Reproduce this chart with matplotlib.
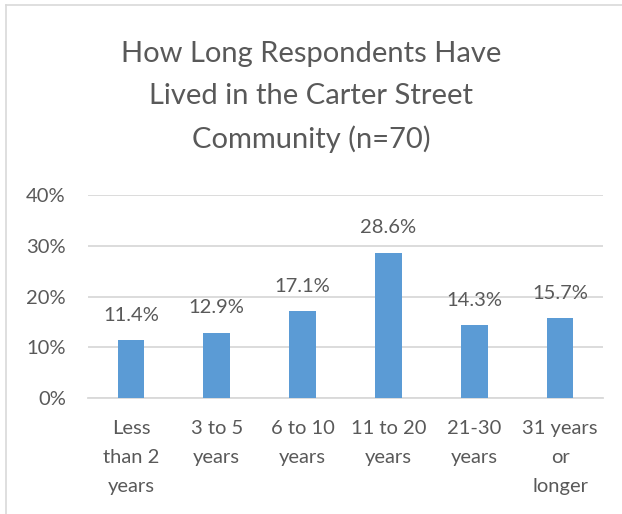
import matplotlib
matplotlib.use("Agg")
import matplotlib.pyplot as plt
from matplotlib.lines import Line2D

categories = ["Less\nthan 2\nyears", "3 to 5\nyears", "6 to 10\nyears", "11 to 20\nyears", "21-30\nyears", "31 years\nor\nlonger"]
values = [11.4, 12.9, 17.1, 28.6, 14.3, 15.7]
yticks = [0, 10, 20, 30, 40]
title = "How Long Respondents Have\nLived in the Carter Street\nCommunity (n=70)"

plt.rcParams['font.family'] = ['Lato', 'DejaVu Sans']
txt = '#595959'
grid = '#D9D9D9'

fig = plt.figure(figsize=(6.22, 5.14), dpi=100)
ax = fig.add_axes([88/622, 1-398/514, (603-88)/622, (398-195)/514])

x = list(range(len(categories)))
bars = ax.bar(x, values, width=0.31, color='#5B9BD5', zorder=3)
ax.set_xlim(-0.5, len(categories)-0.5)
ax.set_ylim(0, 40)
ax.set_yticks(yticks)
ax.set_yticklabels([f"{t}%" for t in yticks])
ax.set_xticks(x)
ax.set_xticklabels(categories, linespacing=1.85)
for s in ['top', 'right', 'left']:
    ax.spines[s].set_visible(False)
ax.spines['bottom'].set_color(grid)
ax.spines['bottom'].set_linewidth(1.3)
ax.yaxis.grid(True, color=grid, linewidth=1.3, zorder=0)
ax.set_axisbelow(True)
ax.tick_params(axis='both', length=0, colors=txt, labelsize=14.5)
ax.tick_params(axis='y', pad=16)
ax.tick_params(axis='x', pad=16)

for xi, v in zip(x, values):
    ax.annotate(f"{v:.1f}%", (xi, v), xytext=(0, 18), textcoords='offset points',
                ha='center', va='center', fontsize=14.5, color=txt)

fig.text(0.5, 1-97/514, title, ha='center', va='center', fontsize=21, color=txt, linespacing=1.75)

fig.add_artist(Line2D([6/622, 6/622], [0, 1-5/514], transform=fig.transFigure, color=grid, lw=1.2))
fig.add_artist(Line2D([6/622, 1], [1-5/514, 1-5/514], transform=fig.transFigure, color=grid, lw=1.2))

fig.savefig("out.png", dpi=100)
